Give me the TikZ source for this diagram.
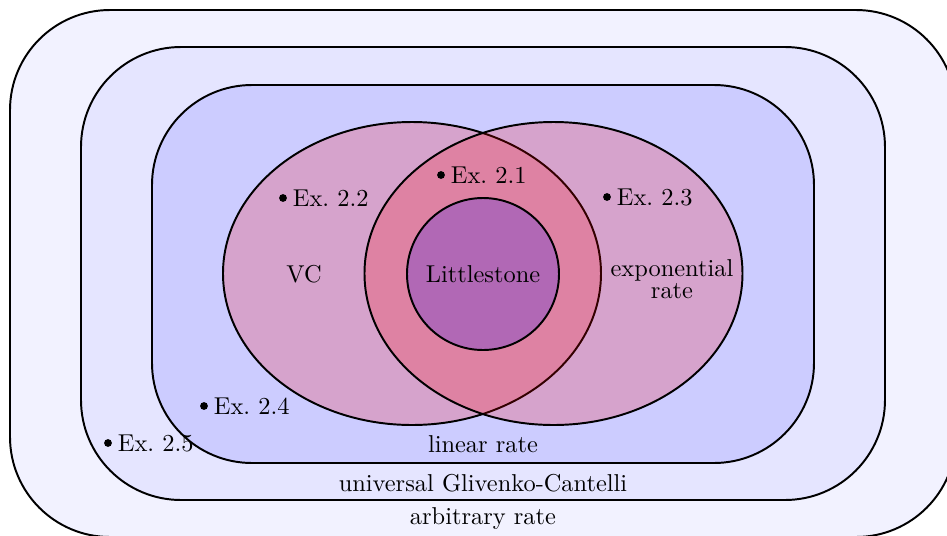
\documentclass[tikz,border=0pt]{standalone}
\begin{document}
\begin{tikzpicture}[x=0.4098pt,y=-0.4098pt,
  region/.style={draw=black,thick,rounded corners=41pt},
  setshape/.style={draw=black,thick,fill opacity=0.2},
  lbl/.style={inner sep=1pt,anchor=west},
  dotmark/.style={fill=black}]
\clip (0,0) rectangle (947,535);
\draw[region,fill=blue!5] (10,10) rectangle (956,537);
\draw[region,fill=blue!10] (81,47) rectangle (885,500);
\draw[region,fill=blue!20] (152,85) rectangle (814,463);
\draw[setshape,fill=red] (412,273.5) ellipse [x radius=189, y radius=151.5];
\draw[setshape,fill=red] (553.5,273.5) ellipse [x radius=189, y radius=151.5];
\draw[setshape,fill=blue] (483,274) circle [radius=76];
\node (little) at (483,274) {Littlestone};
\node (vc) at (304,274) {VC};
\node[align=center] (expo) at (672,279) {exponential\\[-3pt]rate};
\node (lin) at (483,444) {linear rate};
\node (ugc) at (483,483) {universal Glivenko-Cantelli};
\node (arb) at (483,519) {arbitrary rate};
\fill[dotmark] (441,175) circle [radius=3.9];
\node[lbl] (e1) at (448,175) {Ex.~2.1};
\fill[dotmark] (283,198) circle [radius=3.9];
\node[lbl] (e2) at (290,198) {Ex.~2.2};
\fill[dotmark] (607,197) circle [radius=3.9];
\node[lbl] (e3) at (614,197) {Ex.~2.3};
\fill[dotmark] (204,406) circle [radius=3.9];
\node[lbl] (e4) at (211,406) {Ex.~2.4};
\fill[dotmark] (108,443) circle [radius=3.9];
\node[lbl] (e5) at (115,443) {Ex.~2.5};
\end{tikzpicture}
\end{document}
